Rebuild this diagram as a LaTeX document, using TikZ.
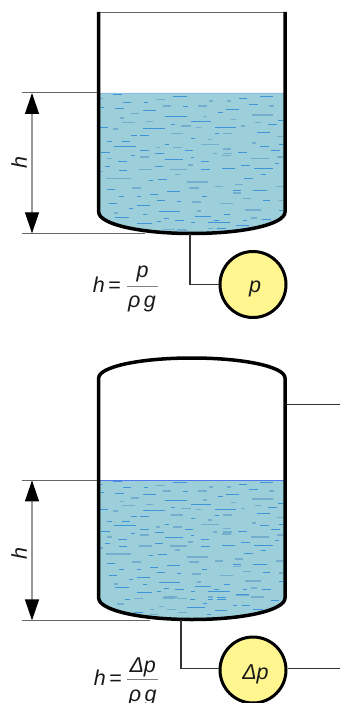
\documentclass[tikz,border=0pt]{standalone}
\usepackage{fontspec}
\setmainfont{Liberation Sans}
\usetikzlibrary{arrows.meta}
\definecolor{water}{HTML}{9CCFD9}
\definecolor{dashb}{HTML}{3F95D8}
\definecolor{dashg}{HTML}{74AECF}
\definecolor{gaugey}{HTML}{FFF68F}
\definecolor{dimline}{HTML}{666666}
\definecolor{dimarrow}{HTML}{999999}
\tikzset{
  wall/.style={draw=black,line width=3.5pt,line join=round},
  guide/.style={draw=dimline,line width=1pt},
  pipe/.style={draw=black!80,line width=1.3pt},
  dimarr/.style={draw=dimarrow,line width=1.2pt,{Triangle[length=21pt,width=14pt,color=black]}-{Triangle[length=21pt,width=14pt,color=black]}},
  gauge/.style={circle,draw=black,line width=3pt,fill=gaugey,minimum size=66pt,inner sep=0pt},
  lab/.style={font=\fontsize{21.5}{24}\selectfont\itshape,inner sep=0pt,anchor=base,text=black!90},
  bdash/.style={draw=dashb,line width=0.9pt},
  gdash/.style={draw=dashg,line width=1.6pt},
}
\newcommand{\brightrows}{338/366/283,520/560/289,780/820/289,716/742/295,370/392/307,432/444/307,746/774/313,550/564/318,302/312/322,346/372/325,678/716/328,430/468/331,654/668/337,496/560/349,834/850/361,574/634/364,512/524/373,804/832/373,300/324/382,644/708/382,430/494/385,772/810/397,644/658/401,394/410/406,420/446/406,572/584/414,366/390/424,322/336/424,494/508/433,838/850/433,342/408/438,780/806/438,420/446/451,812/840/451,554/578/451,304/330/457,714/740/457,464/492/460,392/404/466,572/582/471,494/548/478,602/628/484,354/380/484,826/836/490,724/750/495,316/330/499,464/490/499,666/704/505,762/818/505,604/630/508,356/382/511,784/798/523,732/758/535,474/500/538,446/460/541,322/346/568,760/800/571,698/724/571,500/540/575,450/474/583,358/372/588,412/424/588,606/620/588,470/494/601,790/810/601,532/544/604,326/352/609,412/450/616,388/400/625,478/540/633,838/850/631,428/440/643,672/690/643,584/634/648,344/386/652,492/506/656,786/812/658,526/552/660,642/656/660,728/742/660,572/584/667,624/690/667,470/482/665,410/456/670,708/746/677,652/678/685}
\newcommand{\paleows}{300/310/295,468/494/298,626/640/303,680/692/303,488/514/318,594/622/318,808/822/318,394/418/341,755/820/345,608/622/349,360/372/354,692/708/358,438/458/364,366/406/368,766/784/368,544/572/378,724/736/378,588/602/382,340/354/387,512/550/401,670/696/401,830/850/410,624/636/419,756/768/429,604/656/433,468/480/443,520/546/443,668/694/447,640/652/460,668/696/460,666/694/467,420/446/471,832/850/471,322/336/476,752/808/476,564/578/495,416/456/508,510/560/508,300/310/515,526/540/523,318/392/535,562/624/546,704/728/553,644/670/560,828/850/560,396/422/564,568/596/564,698/724/579,730/754/596,836/850/601,576/602/606,660/698/611,736/782/630,590/602/633,342/354/639,752/772/654,624/638/685,490/526/688,530/560/690}
\newcommand{\dashrows}{%
  \foreach \a/\b/\c in \brightrows {\draw[bdash] (\a,\c) -- (\b,\c);}
  \foreach \a/\b/\c in \paleows {\draw[gdash] (\a,\c) -- (\b,\c);}
}
\begin{document}
\begin{tikzpicture}[x=1pt,y=-1pt]
\useasboundingbox (0,0) rectangle (340,703);
\fill[white] (0,0) rectangle (340,703);
\clip (0,0) rectangle (340,703);

% ---------- upper tank ----------
\coordinate (t1top) at (22,93);
\coordinate (t1bot) at (22,233.3);
\coordinate (t1wl) at (99,93);
\coordinate (t1bl) at (145,233.3);
\coordinate (t1a) at (32,93);
\coordinate (t1b) at (32,233.3);
\begin{scope}
  \clip (98.7,93) -- (285,93) -- (285,212) .. controls (285,224) and (245,233.5) .. (191.8,233.5) .. controls (139,233.5) and (98.7,224) .. (98.7,212) -- cycle;
  \fill[water] (90,92) rectangle (295,240);
  \begin{scope}[scale=0.33333]
    \dashrows
  \end{scope}
\end{scope}
\draw[draw=dashb!60,line width=1pt] (99,93.2) -- (285,93.2);
\draw[guide] (t1top) -- (t1wl);
\draw[guide] (t1bot) -- (t1bl);
\draw[dimarr] (t1a) -- (t1b);
\draw[draw=black!60,line width=0.8pt] (99,12.3) -- (285,12.3);
\draw[wall] (98.7,12) -- (98.7,212) .. controls (98.7,224) and (139,233.5) .. (191.8,233.5) .. controls (245,233.5) and (285,224) .. (285,212) -- (285,12);
\node[lab,rotate=90,anchor=center] (hone) at (19,163) {h};
\node[gauge] (gaugeone) at (253,284.5) {};
\node[lab] (pone) at (255,292) {p};
\coordinate (tapone) at (190,234);
\draw[pipe] (tapone) |- (gaugeone.west);
\node[lab] (eqone) at (107,292) {h\,\upshape=};
\node[lab] (numone) at (142.5,277.5) {p};
\node[lab] (denone) at (142,307.3) {ρ\,g};
\coordinate (barla) at (127,286);
\coordinate (barlb) at (158,286);
\draw[draw=black!50,line width=0.9pt] (barla) -- (barlb);

% ---------- lower tank ----------
\coordinate (t2top) at (22,480.4);
\coordinate (t2bot) at (22,620.4);
\coordinate (t2wl) at (99,480.4);
\coordinate (t2bl) at (150,620.4);
\coordinate (t2a) at (32,480.4);
\coordinate (t2b) at (32,620.4);
\begin{scope}
  \clip (98.7,480.4) -- (285,480.4) -- (285,598) .. controls (285,610) and (245,619.5) .. (191.8,619.5) .. controls (139,619.5) and (98.7,610) .. (98.7,598) -- cycle;
  \fill[water] (90,479) rectangle (295,625);
  \begin{scope}[shift={(0,481)},xscale=0.33333,yscale=0.2887]
    \begin{scope}[shift={(0,-283)}]
      \dashrows
    \end{scope}
  \end{scope}
  \begin{scope}[shift={(0,340)},scale=0.33333]
    \foreach \a/\b/\c in {376/390/778,570/584/778,624/640/778,652/678/778,812/838/782,608/620/790,698/710/797,726/750/797,562/616/802,760/790/809,644/680/812,402/428/818,620/634/824}
      {\draw[bdash] (\a,\c) -- (\b,\c);}
    \foreach \a/\b/\c in {492/532/771,708/746/767,752/792/771,402/428/776,350/372/792,476/492/799,450/462/809,500/528/809,534/560/818,446/474/824}
      {\draw[gdash] (\a,\c) -- (\b,\c);}
  \end{scope}
\end{scope}
\draw[draw=dashb!60!blue!80,line width=1pt] (99,480.4) -- (285,480.4);
\draw[guide] (t2top) -- (t2wl);
\draw[guide] (t2bot) -- (t2bl);
\draw[dimarr] (t2a) -- (t2b);
\draw[wall] (98.7,598) .. controls (98.7,610) and (139,619.5) .. (191.8,619.5) .. controls (245,619.5) and (285,610) .. (285,598) -- (285,378) .. controls (285,367) and (245,358) .. (191.8,358) .. controls (139,358) and (98.7,367) .. (98.7,378) -- cycle;
\node[lab,rotate=90,anchor=center] (htwo) at (19,554) {h};
\node[gauge] (gaugetwo) at (253,670) {};
\node[lab] (ptwo) at (255.5,679.3) {Δp};
\coordinate (taptwo) at (181,620);
\coordinate (ventin) at (286.5,404.5);
\coordinate (ventout) at (340,404.5);
\coordinate (sigout) at (340,668.5);
\draw[pipe] (taptwo) |- (gaugetwo.west |- 0,668.5);
\draw[pipe] (ventin) -- (ventout);
\draw[pipe] (gaugetwo.east |- sigout) -- (sigout);
\node[lab] (eqtwo) at (108,685.7) {h\,\upshape=};
\node[lab] (numtwo) at (142.7,672.3) {Δp};
\node[lab] (dentwo) at (142.7,701.7) {ρ\,g};
\coordinate (barra) at (127,679.8);
\coordinate (barrb) at (158,679.8);
\draw[draw=black!50,line width=0.9pt] (barra) -- (barrb);
\end{tikzpicture}
\end{document}
